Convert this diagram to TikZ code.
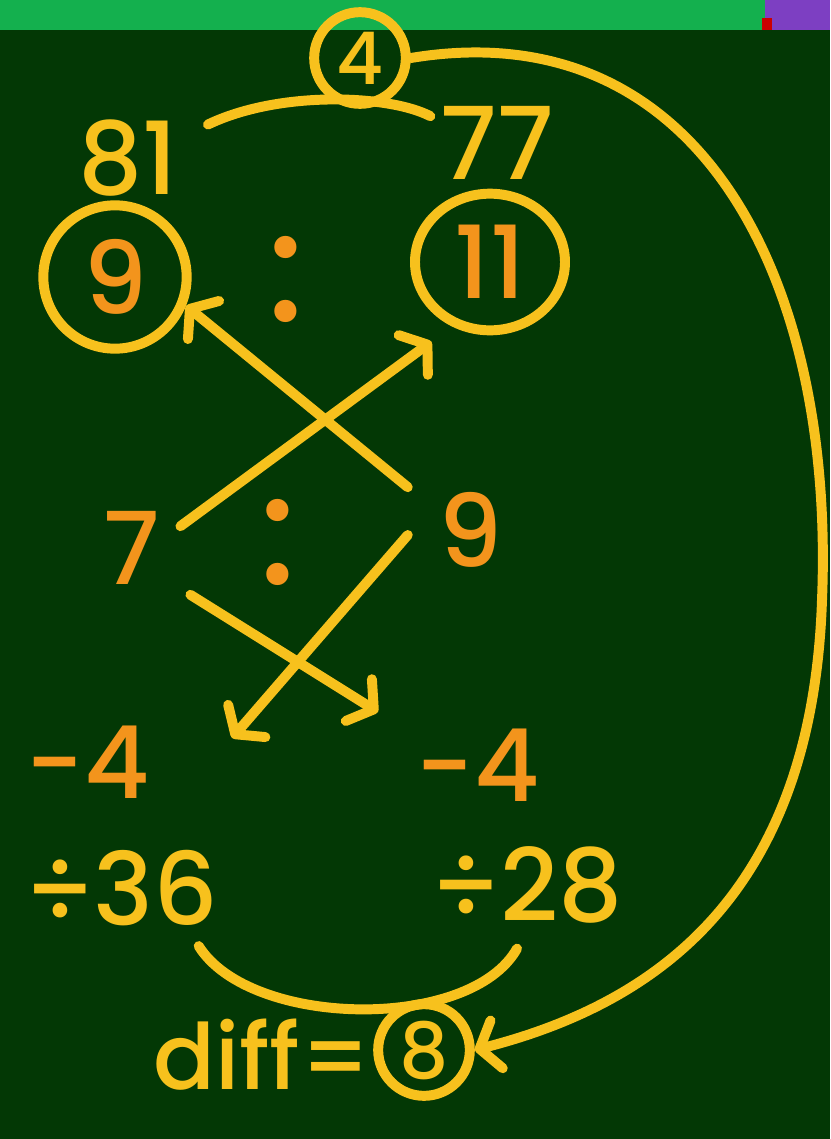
\documentclass[tikz,border=0pt]{standalone}
\usepackage{fontspec}
\setmainfont{Poppins}[UprightFont=* Medium]
\usepackage{xcolor}
\usetikzlibrary{calc, shapes.geometric, positioning, arrows.meta}

\definecolor{nenbang}{HTML}{033805}
\definecolor{vang}{HTML}{F7C11D}
\definecolor{cam}{HTML}{F3941C}
\definecolor{thanhtren}{HTML}{14B04E}
\definecolor{tim}{HTML}{7D3FC2}

\begin{document}
\begin{tikzpicture}[x=0.03cm, y=-0.03cm,
    >={Straight Barb[length=15pt, width=42pt, round]},
    net/.style={line width=8.5pt, draw=vang, line cap=round, line join=round},
    so/.style={inner sep=0pt, font=\fontsize{86}{86}\selectfont},
    socam/.style={so, text=cam},
    sovang/.style={so, text=vang},
    vong/.style={circle, draw=vang, line width=8.5pt, inner sep=0pt}]
    % Nền bảng
    \useasboundingbox (0,0) rectangle (830,1139);
    \fill[nenbang] (0,0) rectangle (830,1139);
    \fill[thanhtren] (0,0) rectangle (765,30);
    \fill[tim] (765,0) rectangle (830,30);
    \fill[red!80!black] (762,18) rectangle (772,30);

    % Tỉ số đầu: 9 : 11
    \node[vong, socam, minimum size=4.3cm] (c9) at (115,277) {9};
    \node[ellipse, draw=vang, line width=8.5pt, socam,
          minimum width=4.5cm, minimum height=4.1cm] (e11) at (490,262) {11};
    \node[socam, font=\fontsize{130}{130}\selectfont] (hc1) at (286,279) {:};
    \node[sovang] (n81) at (128,158) {81};
    \node[sovang] (n77) at (497,143) {77};
    \node[vong, sovang, font=\fontsize{62}{62}\selectfont,
          minimum size=2.75cm] (c4) at (360,58) {4};

    % Tỉ số thứ hai: 7 : 9
    \node[socam] (n7) at (132,548) {7};
    \node[socam] (n9b) at (470,530) {9};
    \node[socam, font=\fontsize{130}{130}\selectfont] (hc2) at (278,542) {:};
    \node[socam] (m4t) at (88,762) {−4};
    \node[socam] (m4p) at (478,765) {−4};
    \coordinate (muiT) at (232,738);
    \coordinate (muiP) at (378,712);

    % Kết quả
    \node[sovang] (d36) at (122,888) {÷36};
    \node[sovang] (d28) at (527,885) {÷28};
    \node[sovang, font=\fontsize{78}{78}\selectfont] (hieu) at (262,1055) {diff=};
    \node[vong, sovang, font=\fontsize{66}{66}\selectfont,
          minimum size=2.75cm] (c8) at (424,1050) {8};

    % Các mũi tên chéo
    \draw[net, ->] ($(n9b.north west)+(-30,-5)$) -- (c9.-22);
    \draw[net, ->] ($(n7.north east)+(20,15)$) -- ($(e11.-128)+(-12,20)$);
    \draw[net, ->] ($(n7.south east)+(30,10)$) -- (muiP);
    \draw[net, ->] ($(n9b.west)+(-30,5)$) -- (muiT);

    % Các cung nối
    \draw[net] ($(n81.north east)+(30,5)$) .. controls (280,90) and (390,95)
        .. ($(n77.north west)+(-10,10)$);
    \draw[net] ($(d36.south east)+(-20,20)$) .. controls (250,1028) and (470,1032)
        .. ($(d28.south)+(-10,25)$);
    \draw[net, ->] (c4.east) .. controls (700,10) and (835,280) .. (822,600)
        .. controls (812,900) and (650,1005) .. (c8.east);
\end{tikzpicture}
\end{document}
